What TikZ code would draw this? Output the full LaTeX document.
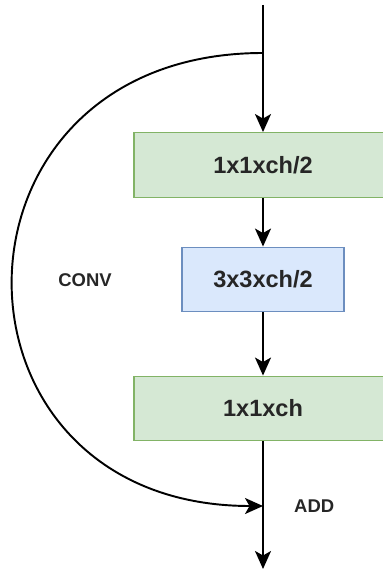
\documentclass[tikz,border=0pt]{standalone}
\usepackage{fontspec}
\setmainfont{Liberation Sans}
\usepackage{xcolor}
\usepackage{tikz}
\usetikzlibrary{arrows.meta,positioning,calc}

\definecolor{greenfill}{HTML}{D5E8D4}
\definecolor{greenline}{HTML}{82B366}
\definecolor{bluefill}{HTML}{DAE8FC}
\definecolor{blueline}{HTML}{6C8EBF}

\begin{document}
\begin{tikzpicture}[
    flow/.style={-{Stealth[length=3.6mm,width=3.2mm,inset=0.9mm]}, line width=1.1pt},
    convbox/.style={draw, line width=0.8pt, minimum height=1.29cm, font=\fontsize{13.4}{16}\selectfont\bfseries, text=black!85},
    tag/.style={font=\fontsize{10.5}{12}\selectfont\bfseries, text=black!85}
]
    \useasboundingbox (0,0) rectangle (7.66,-11.44);

    \coordinate (input) at (5.26, -0.1);
    \coordinate (split) at (5.26, -1.06);

    \node[convbox, fill=greenfill, draw=greenline, minimum width=5.16cm] (reduce) at (5.26, -3.30) {1x1xch/2};
    \node[convbox, fill=bluefill, draw=blueline, minimum width=3.24cm] (spatial) at (5.26, -5.59) {3x3xch/2};
    \node[convbox, fill=greenfill, draw=greenline, minimum width=5.16cm] (expand) at (5.26, -8.17) {1x1xch};

    \coordinate (add) at (5.26, -10.12);
    \coordinate (output) at (5.26, -11.38);

    \node[tag] (conv) at (1.70, -5.60) {CONV};
    \node[tag, right=0.5cm of add] (addlabel) {ADD};

    \draw[line width=1.1pt] (input) -- (split);
    \draw[flow] (split) -- (reduce);
    \draw[flow] (reduce) -- (spatial);
    \draw[flow] (spatial) -- (expand);
    \draw[line width=1.1pt] (expand) -- (add);
    \draw[flow] (add) -- (output);
    \draw[flow] (split) .. controls +(-6.66,0) and +(-6.66,0) .. (add);
\end{tikzpicture}
\end{document}
